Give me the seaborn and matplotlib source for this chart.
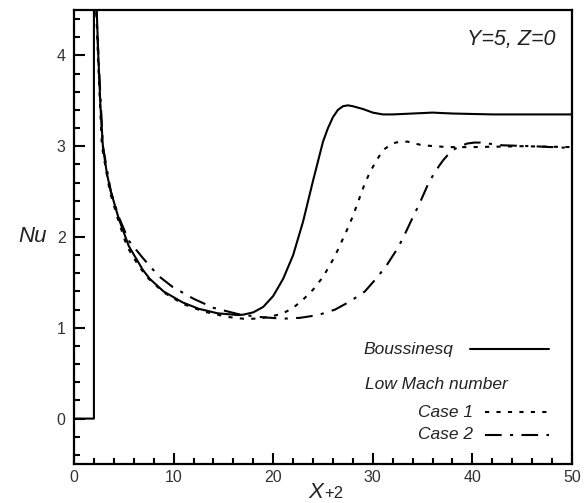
import matplotlib
matplotlib.use("Agg")
import matplotlib.pyplot as plt
import seaborn as sns
from matplotlib.lines import Line2D
from matplotlib.ticker import MultipleLocator

# Boussinesq (includes the step at the inlet)
bous_x = [0, 2, 2, 2.15, 2.28, 2.44, 2.65, 2.9, 3.3, 3.7, 4.5, 5.5, 6.9, 7.6, 9.0, 10.9, 12.5,
          14.4, 16.5, 17.0, 18.0, 19.0, 20.0, 21.0, 22.0, 23.0, 24.0, 25.0, 25.5, 26.0, 26.5,
          27.0, 27.5, 28.0, 29.0, 30.0, 31.0, 32.0, 34.0, 36.0, 38.0, 42.0, 50.0]
bous_y = [0, 0, 8, 6, 4.5, 4.0, 3.45, 3.0, 2.7, 2.5, 2.2, 1.9, 1.64, 1.54, 1.40, 1.28, 1.21,
          1.16, 1.14, 1.145, 1.17, 1.23, 1.35, 1.54, 1.80, 2.17, 2.62, 3.05, 3.20, 3.32, 3.40,
          3.44, 3.45, 3.44, 3.41, 3.37, 3.35, 3.35, 3.36, 3.37, 3.36, 3.35, 3.35]

# Low Mach number, case 1
case1_x = [2.2, 2.4, 2.8, 3.6, 4.4, 5.3, 6.5, 7.5, 9.0, 11.0, 13.0, 15.4, 17.0, 18.0, 19.0,
           20.0, 21.0, 22.0, 23.0, 24.0, 25.0, 26.0, 26.5, 27.0, 27.5, 28.0, 28.4, 29.2, 29.7,
           30.2, 30.7, 31.2, 31.7, 32.3, 32.9, 33.5, 34.2, 35.0, 37.5, 40.0, 45.0, 50.0]
case1_y = [4.6, 4.0, 3.0, 2.5, 2.2, 1.9, 1.68, 1.54, 1.39, 1.26, 1.18, 1.12, 1.10, 1.10, 1.11,
           1.13, 1.16, 1.22, 1.31, 1.42, 1.56, 1.75, 1.86, 1.98, 2.10, 2.23, 2.35, 2.59, 2.71,
           2.81, 2.90, 2.97, 3.01, 3.04, 3.05, 3.05, 3.03, 3.01, 2.99, 2.99, 3.0, 2.99]

# Low Mach number, case 2
case2_x = [2.2, 2.45, 2.9, 3.7, 4.5, 5.5, 6.9, 8.5, 9.9, 12.0, 14.0, 16.5, 18.5, 21.0, 22.7,
           24.5, 26.2, 27.7, 29.2, 30.4, 31.4, 32.4, 33.0, 33.9, 34.7, 35.5, 36.1, 36.7, 37.1,
           37.5, 38.0, 38.5, 39.0, 39.5, 40.2, 40.8, 43.0, 46.0, 50.0]
case2_y = [4.6, 4.0, 3.0, 2.5, 2.22, 1.96, 1.77, 1.57, 1.45, 1.32, 1.22, 1.15, 1.12, 1.10, 1.11,
           1.14, 1.20, 1.29, 1.40, 1.55, 1.69, 1.86, 1.98, 2.19, 2.37, 2.57, 2.69, 2.79, 2.85,
           2.90, 2.95, 2.99, 3.01, 3.03, 3.04, 3.04, 3.01, 3.0, 2.98]

sns.set_style("ticks")
plt.rcParams["font.family"] = ["Liberation Sans", "DejaVu Sans"]

DOT = (0, (2.0, 3.5))
DASHDOT = (0, (8.0, 4.0, 1.5, 4.0))
LW = 1.5

fig = plt.figure(figsize=(5.88, 5.03), dpi=100)
ax = fig.add_axes([74 / 588, 39 / 503, 498 / 588, 454 / 503])

sns.lineplot(x=bous_x, y=bous_y, sort=False, estimator=None, color="black", linewidth=LW, ax=ax)
sns.lineplot(x=case1_x, y=case1_y, sort=False, estimator=None, color="black", linewidth=LW,
             linestyle=DOT, ax=ax)
sns.lineplot(x=case2_x, y=case2_y, sort=False, estimator=None, color="black", linewidth=LW,
             linestyle=DASHDOT, ax=ax)

ax.set_xlim(0, 50)
ax.set_ylim(-0.5, 4.5)
ax.xaxis.set_major_locator(MultipleLocator(10))
ax.xaxis.set_minor_locator(MultipleLocator(2))
ax.yaxis.set_major_locator(MultipleLocator(1))
ax.yaxis.set_minor_locator(MultipleLocator(0.2))
ax.tick_params(which="both", direction="in", top=False, right=False, colors="black",
               width=1.5, labelsize=11.5, labelcolor="#333333")
ax.tick_params(which="major", length=8)
ax.tick_params(which="minor", length=4)
ax.tick_params(axis="x", pad=4)
ax.tick_params(axis="y", pad=6)
for sp in ax.spines.values():
    sp.set_linewidth(1.6)
    sp.set_color("black")
ax.set_xlabel("")
ax.set_ylabel("")

# axis labels
ax.text(-0.084, 0.5, "Nu", transform=ax.transAxes, fontsize=16, style="italic",
        ha="center", va="center", color="#222222")
ax.text(0.5, -0.074, "X", transform=ax.transAxes, fontsize=16, style="italic",
        ha="right", va="baseline", color="#222222")
ax.text(0.503, -0.074, "+2", transform=ax.transAxes, fontsize=12,
        ha="left", va="baseline", color="#222222")

ax.text(0.966, 0.934, "Y=5, Z=0", transform=ax.transAxes, fontsize=15.5, style="italic",
        ha="right", va="center", color="#222222")

# hand-placed legend
leg_kw = dict(transform=ax.transAxes, fontsize=12.5, style="italic", color="#222222", va="center")
ax.text(0.582, 0.253, "Boussinesq", ha="left", **leg_kw)
ax.text(0.584, 0.176, "Low Mach number", ha="left", **leg_kw)
ax.text(0.801, 0.1145, "Case 1", ha="right", **leg_kw)
ax.text(0.801, 0.064, "Case 2", ha="right", **leg_kw)
for (x0, x1, yy, ls) in [(0.795, 0.954, 0.253, "-"), (0.825, 0.954, 0.1145, DOT),
                         (0.825, 0.954, 0.064, DASHDOT)]:
    ax.add_line(Line2D([x0, x1], [yy, yy], transform=ax.transAxes, color="black",
                       linewidth=LW, linestyle=ls))

fig.savefig("out.png", dpi=100)
